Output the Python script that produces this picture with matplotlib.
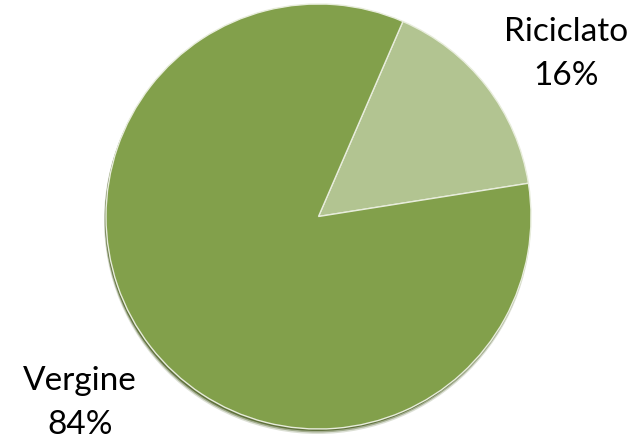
import matplotlib
matplotlib.use('Agg')
import matplotlib.pyplot as plt
from matplotlib.patches import Circle

# pie data
labels = ['Riciclato', 'Vergine']
values = [16, 84]
colors = ['#b2c491', '#82a04b']
shadow_col = '#4f6228'

W, H = 635, 442
fig = plt.figure(figsize=(W / 100, H / 100), dpi=100)
ax = fig.add_axes([0, 0, 1, 1])
ax.set_xlim(0, W)
ax.set_ylim(0, H)
ax.set_aspect('equal')
ax.axis('off')

cx, cy, r = 318.5, H - 216.5, 212.5

# soft shadow under the pie
for i, a in enumerate([0.2, 0.4, 0.8]):
    ax.add_patch(Circle((cx - 1, cy - 4 + i), r + 1 - i * 0.5, color=shadow_col,
                        alpha=a, lw=0, zorder=0))

wedges, _ = ax.pie(values, colors=colors, startangle=9, counterclock=True,
                   center=(cx, cy), radius=r, frame=True,
                   wedgeprops=dict(edgecolor='#e8eddc', linewidth=1.0))
ax.set_xlim(0, W)
ax.set_ylim(0, H)
ax.axis('off')

font = ['Lato', 'DejaVu Sans']
txt_pos = [(566, H - 54), (80, H - 403)]
for lab, v, (tx, ty) in zip(labels, values, txt_pos):
    ax.text(tx, ty, f'{lab}\n{v}%', ha='center', va='center', fontsize=24,
            family=font, color='black', linespacing=1.6)

fig.savefig('out.png', dpi=100)
